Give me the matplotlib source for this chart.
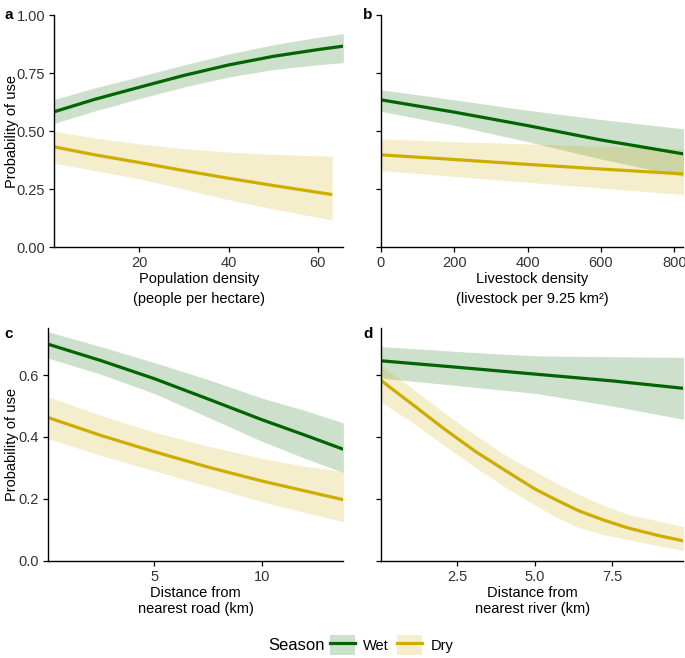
"""Predicted probability of use by season, four covariates (panels a-d)."""
import matplotlib
matplotlib.use("Agg")
import matplotlib.pyplot as plt
from matplotlib.lines import Line2D
from matplotlib.patches import Patch

plt.rcParams["font.family"] = ["Liberation Sans", "DejaVu Sans"]

WET = "#006400"
DRY = "#CDAD00"

# a: population density
pop_wet_x = [1, 10, 20, 30, 40, 50, 60, 65.7]
pop_wet = [0.584, 0.637, 0.689, 0.740, 0.785, 0.822, 0.851, 0.866]
pop_wet_lo = [0.534, 0.587, 0.640, 0.690, 0.733, 0.765, 0.786, 0.795]
pop_wet_hi = [0.637, 0.686, 0.735, 0.785, 0.832, 0.872, 0.904, 0.920]
pop_dry_x = [1, 10, 20, 30, 40, 50, 63.2]
pop_dry = [0.432, 0.398, 0.365, 0.330, 0.297, 0.266, 0.227]
pop_dry_lo = [0.362, 0.330, 0.295, 0.250, 0.205, 0.165, 0.117]
pop_dry_hi = [0.500, 0.470, 0.445, 0.425, 0.410, 0.400, 0.392]

# b: livestock density
liv_x = [0, 200, 400, 600, 825]
liv_wet = [0.635, 0.582, 0.524, 0.462, 0.402]
liv_wet_lo = [0.585, 0.525, 0.455, 0.380, 0.305]
liv_wet_hi = [0.678, 0.635, 0.590, 0.550, 0.510]
liv_dry = [0.398, 0.378, 0.357, 0.337, 0.316]
liv_dry_lo = [0.330, 0.305, 0.280, 0.255, 0.227]
liv_dry_hi = [0.467, 0.455, 0.445, 0.435, 0.424]

# c: distance from road
road_x = [0.05, 2.5, 5, 7.5, 10, 12, 13.75]
road_wet = [0.700, 0.647, 0.588, 0.522, 0.455, 0.405, 0.360]
road_wet_lo = [0.655, 0.603, 0.540, 0.463, 0.385, 0.330, 0.285]
road_wet_hi = [0.740, 0.692, 0.640, 0.585, 0.525, 0.485, 0.445]
road_dry = [0.463, 0.405, 0.352, 0.302, 0.257, 0.225, 0.197]
road_dry_lo = [0.395, 0.340, 0.290, 0.240, 0.190, 0.155, 0.126]
road_dry_hi = [0.530, 0.470, 0.415, 0.370, 0.330, 0.305, 0.288]

# d: distance from river
river_wet_x = [0.03, 2.5, 5, 7.5, 9.8]
river_wet = [0.646, 0.625, 0.603, 0.581, 0.557]
river_wet_lo = [0.590, 0.566, 0.541, 0.500, 0.457]
river_wet_hi = [0.692, 0.676, 0.662, 0.659, 0.657]
river_dry_x = [0.02, 1.0, 2.05, 3.1, 4.2, 5.0, 5.7, 6.4, 7.2, 8.0, 9.0, 9.8]
river_dry = [0.584, 0.509, 0.428, 0.352, 0.282, 0.232, 0.196, 0.162, 0.132, 0.106, 0.081, 0.064]
river_dry_lo = [0.514, 0.450, 0.374, 0.300, 0.228, 0.180, 0.140, 0.108, 0.085, 0.068, 0.048, 0.033]
river_dry_hi = [0.632, 0.560, 0.480, 0.405, 0.331, 0.290, 0.250, 0.215, 0.180, 0.150, 0.128, 0.110]


def style(ax):
    for s in ("top", "right"):
        ax.spines[s].set_visible(False)
    for s in ("left", "bottom"):
        ax.spines[s].set_linewidth(1.0)
    ax.tick_params(direction="out", length=3.5, width=0.9, labelsize=10.5,
                   labelcolor="#333333", color="black", pad=3)


def draw(ax, x, y, lo, hi, color):
    ax.fill_between(x, lo, hi, color=color, alpha=0.2, linewidth=0)
    ax.plot(x, y, color=color, lw=2.3, solid_capstyle="butt", solid_joinstyle="round")


fig = plt.figure(figsize=(6.85, 6.58), dpi=100)
ax_a = fig.add_axes([0.0793, 0.6242, 0.4219, 0.3530])
ax_b = fig.add_axes([0.5558, 0.6242, 0.4420, 0.3530])
ax_c = fig.add_axes([0.0696, 0.1479, 0.4316, 0.3532])
ax_d = fig.add_axes([0.5558, 0.1479, 0.4420, 0.3532])

draw(ax_a, pop_wet_x, pop_wet, pop_wet_lo, pop_wet_hi, WET)
draw(ax_a, pop_dry_x, pop_dry, pop_dry_lo, pop_dry_hi, DRY)
draw(ax_b, liv_x, liv_wet, liv_wet_lo, liv_wet_hi, WET)
draw(ax_b, liv_x, liv_dry, liv_dry_lo, liv_dry_hi, DRY)
draw(ax_c, road_x, road_wet, road_wet_lo, road_wet_hi, WET)
draw(ax_c, road_x, road_dry, road_dry_lo, road_dry_hi, DRY)
draw(ax_d, river_wet_x, river_wet, river_wet_lo, river_wet_hi, WET)
draw(ax_d, river_dry_x, river_dry, river_dry_lo, river_dry_hi, DRY)

top_ticks = [0, 0.25, 0.5, 0.75, 1.0]
bot_ticks = [0, 0.2, 0.4, 0.6]
for ax in (ax_a, ax_b):
    ax.set_ylim(0, 1.0)
    ax.set_yticks(top_ticks)
ax_a.set_yticklabels(["0.00", "0.25", "0.50", "0.75", "1.00"])
ax_b.set_yticklabels([])
for ax in (ax_c, ax_d):
    ax.set_ylim(0, 0.751)
    ax.set_yticks(bot_ticks)
ax_c.set_yticklabels(["0.0", "0.2", "0.4", "0.6"])
ax_d.set_yticklabels([])

ax_a.set_xlim(0.94, 65.7)
ax_a.set_xticks([20, 40, 60])
ax_b.set_xlim(0, 825)
ax_b.set_xticks([0, 200, 400, 600, 800])
ax_c.set_xlim(0.05, 13.75)
ax_c.set_xticks([5, 10])
ax_d.set_xlim(0.03, 9.8)
ax_d.set_xticks([2.5, 5.0, 7.5])
ax_d.set_xticklabels(["2.5", "5.0", "7.5"])

ax_a.set_xlabel("Population density\n(people per hectare)", fontsize=10.5, linespacing=1.55, labelpad=1)
ax_b.set_xlabel("Livestock density\n(livestock per 9.25 km²)", fontsize=10.5, linespacing=1.55, labelpad=1)
ax_c.set_xlabel("Distance from\nnearest road (km)", fontsize=10.5, linespacing=1.1, labelpad=2)
ax_d.set_xlabel("Distance from\nnearest river (km)", fontsize=10.5, linespacing=1.1, labelpad=2)
ax_a.set_ylabel("Probability of use", fontsize=10.5)
ax_c.set_ylabel("Probability of use", fontsize=10.5)
ax_a.yaxis.set_label_coords(-0.122, 0.5)
ax_c.yaxis.set_label_coords(-0.097, 0.5)

for ax in (ax_a, ax_b, ax_c, ax_d):
    style(ax)

for lab, x, y in (("a", 0.007, 0.988), ("b", 0.530, 0.988),
                  ("c", 0.007, 0.503), ("d", 0.530, 0.503)):
    fig.text(x, y, lab, fontsize=11, fontweight="bold", ha="left", va="top")

handles = [
    (Patch(facecolor=WET, alpha=0.2, edgecolor="none"), Line2D([], [], color=WET, lw=2.3)),
    (Patch(facecolor=DRY, alpha=0.2, edgecolor="none"), Line2D([], [], color=DRY, lw=2.3)),
]
fig.text(0.391, 0.0195, "Season", fontsize=12, ha="left", va="center")
fig.legend(handles, ["Wet", "Dry"], ncol=2, loc="center left",
           bbox_to_anchor=(0.482, 0.0195), frameon=False, fontsize=10.5,
           handlelength=1.7, handleheight=1.7, handletextpad=0.55,
           columnspacing=0.6, borderpad=0, borderaxespad=0)

fig.savefig("out.png", dpi=100)
